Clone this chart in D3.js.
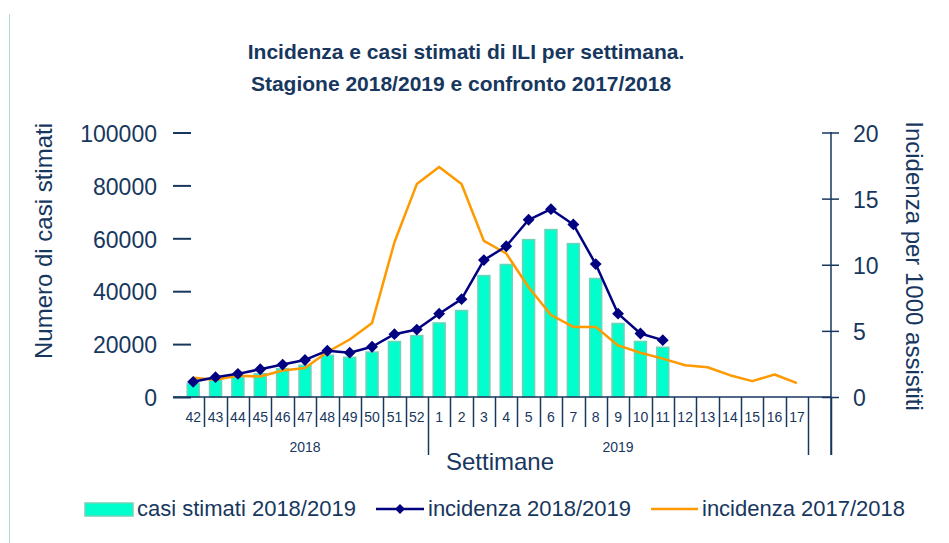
<!DOCTYPE html>
<html>
<head>
  <meta charset="utf-8" />
  <script src="https://d3js.org/d3.v7.min.js"></script>
  <style>
    body { margin: 0; background: #fff; }
    text { font-family: "Liberation Sans", Arial, sans-serif; fill: #17375e; }
  </style>
</head>
<body>
  <svg width="949" height="543"></svg>
  <script>
    // settimane (l'ultima categoria e' vuota)
    var weeks = ["42", "43", "44", "45", "46", "47", "48", "49", "50", "51", "52",
      "1", "2", "3", "4", "5", "6", "7", "8", "9", "10", "11", "12", "13", "14", "15", "16", "17", ""];
    var years = [
      { label: "2018", from: 0, to: 11 },
      { label: "2019", from: 11, to: 28 },
      { label: "", from: 28, to: 29 }
    ];

    // casi stimati 2018/2019 (sett. 42 -> 11)
    var casi1819 = [5200, 6500, 7800, 8800, 10700, 12000, 15800, 15000, 17000, 21000, 23200,
      28000, 32700, 45900, 50100, 59500, 63300, 58000, 44800, 27800, 21000, 18800];
    // incidenza 2018/2019 (sett. 42 -> 11)
    var inc1819 = [1.15, 1.5, 1.75, 2.1, 2.45, 2.8, 3.5, 3.35, 3.8, 4.75, 5.1,
      6.3, 7.4, 10.35, 11.4, 13.4, 14.2, 13.05, 10.05, 6.3, 4.8, 4.3];
    // incidenza 2017/2018 (sett. 42 -> 17)
    var inc1718 = [1.45, 1.3, 1.6, 1.55, 2.0, 2.2, 3.4, 4.35, 5.6, 11.7, 16.1,
      17.4, 16.1, 11.8, 10.85, 8.3, 6.2, 5.3, 5.3, 3.9, 3.35, 2.9, 2.4, 2.25, 1.65, 1.2, 1.7, 1.05];

    var leftTicks = [0, 20000, 40000, 60000, 80000, 100000];
    var rightTicks = [0, 5, 10, 15, 20];

    var navy = "#17375e";
    var svg = d3.select("svg");

    var x = d3.scaleBand()
      .domain(d3.range(weeks.length))
      .range([182, 830.5])
      .padding(0);
    var yLeft = d3.scaleLinear().domain([0, 100000]).range([397, 132.5]);
    var yRight = d3.scaleLinear().domain([0, 20]).range([397, 132.5]);

    // bordo sinistro
    svg.append("line")
      .attr("x1", 9.5).attr("x2", 9.5)
      .attr("y1", 14).attr("y2", 543)
      .attr("stroke", "#a8dcd4")
      .attr("stroke-width", 1);

    // titolo
    svg.append("text")
      .attr("x", 466).attr("y", 59)
      .attr("text-anchor", "middle")
      .style("font-size", "21px")
      .style("font-weight", "bold")
      .text("Incidenza e casi stimati di ILI per settimana.");
    svg.append("text")
      .attr("x", 461).attr("y", 91)
      .attr("text-anchor", "middle")
      .style("font-size", "21px")
      .style("font-weight", "bold")
      .text("Stagione 2018/2019 e confronto 2017/2018");

    // barre
    svg.append("g")
      .selectAll("rect")
      .data(casi1819)
      .enter()
      .append("rect")
      .attr("x", function (d, i) { return x(i) + x.bandwidth() / 2 - 6; })
      .attr("y", function (d) { return yLeft(d); })
      .attr("width", 12)
      .attr("height", function (d) { return yLeft(0) - yLeft(d); })
      .attr("fill", "#00ffcc")
      .attr("stroke", "#72d2b9")
      .attr("stroke-width", 1.5);

    // asse x: linea di base e separatori
    svg.append("line")
      .attr("x1", 173).attr("x2", 831)
      .attr("y1", 397).attr("y2", 397)
      .attr("stroke", navy)
      .attr("stroke-width", 1.5);

    var xAxis = d3.axisBottom(x)
      .tickSize(0)
      .tickPadding(15)
      .tickFormat(function (i) { return weeks[i]; });
    var gx = svg.append("g")
      .attr("transform", "translate(0,397)")
      .call(xAxis);
    gx.select(".domain").remove();
    gx.selectAll("text")
      .style("font-size", "14px")
      .style("font-family", "\"Liberation Sans\", Arial, sans-serif")
      .attr("fill", navy);

    var groupEdges = years.map(function (g) { return g.to; });
    svg.append("g")
      .selectAll("line")
      .data(d3.range(1, weeks.length + 1))
      .enter()
      .append("line")
      .attr("x1", function (i) { return Math.round(i < weeks.length ? x(i) : x.range()[1]) + 0.5; })
      .attr("x2", function (i) { return Math.round(i < weeks.length ? x(i) : x.range()[1]) + 0.5; })
      .attr("y1", 397)
      .attr("y2", function (i) { return groupEdges.indexOf(i) >= 0 ? 455 : 427; })
      .attr("stroke", navy)
      .attr("stroke-width", 1.5);

    svg.append("g")
      .selectAll("text")
      .data(years)
      .enter()
      .append("text")
      .attr("x", function (g) { return (x(g.from) + (g.to < weeks.length ? x(g.to) : x.range()[1])) / 2; })
      .attr("y", 452)
      .attr("text-anchor", "middle")
      .style("font-size", "14px")
      .text(function (g) { return g.label; });

    svg.append("text")
      .attr("x", 500).attr("y", 470)
      .attr("text-anchor", "middle")
      .style("font-size", "24px")
      .text("Settimane");

    // asse sinistro
    var gl = svg.append("g")
      .attr("transform", "translate(191,0)")
      .call(d3.axisLeft(yLeft).tickValues(leftTicks).tickSize(18).tickPadding(16).tickFormat(d3.format("d")));
    gl.select(".domain").remove();
    gl.selectAll("line").attr("stroke", navy).attr("stroke-width", 2);
    gl.selectAll("text")
      .style("font-size", "23px")
      .style("font-family", "\"Liberation Sans\", Arial, sans-serif")
      .attr("fill", navy)
      .attr("dy", "0.38em");

    svg.append("text")
      .attr("transform", "translate(52,241) rotate(-90)")
      .attr("text-anchor", "middle")
      .style("font-size", "24px")
      .text("Numero di casi stimati");

    // asse destro
    svg.append("line")
      .attr("x1", 831).attr("x2", 831)
      .attr("y1", 132).attr("y2", 455)
      .attr("stroke", navy)
      .attr("stroke-width", 1.5);
    var gr = svg.append("g")
      .attr("transform", "translate(822,0)")
      .call(d3.axisRight(yRight).tickValues(rightTicks).tickSize(17).tickPadding(14));
    gr.select(".domain").remove();
    gr.selectAll("line").attr("stroke", navy).attr("stroke-width", 1.5);
    gr.selectAll("text")
      .style("font-size", "23px")
      .style("font-family", "\"Liberation Sans\", Arial, sans-serif")
      .attr("fill", navy)
      .attr("dy", "0.38em");

    svg.append("text")
      .attr("transform", "translate(906,266) rotate(90)")
      .attr("text-anchor", "middle")
      .style("font-size", "24px")
      .text("Incidenza per 1000 assistiti");

    // linee
    var line = d3.line()
      .x(function (d, i) { return x(i) + x.bandwidth() / 2; })
      .y(function (d) { return yRight(d); });

    svg.append("path")
      .datum(inc1718)
      .attr("d", line)
      .attr("fill", "none")
      .attr("stroke", "#ff9900")
      .attr("stroke-width", 2.5)
      .attr("stroke-linejoin", "round");

    svg.append("path")
      .datum(inc1819)
      .attr("d", line)
      .attr("fill", "none")
      .attr("stroke", "#000080")
      .attr("stroke-width", 2.5)
      .attr("stroke-linejoin", "round");

    var diamond = d3.symbol().type(d3.symbolSquare).size(70);
    svg.append("g")
      .selectAll("path")
      .data(inc1819)
      .enter()
      .append("path")
      .attr("d", diamond)
      .attr("transform", function (d, i) {
        return "translate(" + (x(i) + x.bandwidth() / 2) + "," + yRight(d) + ") rotate(45)";
      })
      .attr("fill", "#000080");

    // legenda
    var legend = svg.append("g");
    legend.append("rect")
      .attr("x", 85).attr("y", 503)
      .attr("width", 48).attr("height", 13)
      .attr("fill", "#00ffcc")
      .attr("stroke", "#72d2b9")
      .attr("stroke-width", 1.5);
    legend.append("text")
      .attr("x", 137).attr("y", 516)
      .style("font-size", "22px")
      .text("casi stimati 2018/2019");

    legend.append("line")
      .attr("x1", 376).attr("x2", 424)
      .attr("y1", 509).attr("y2", 509)
      .attr("stroke", "#000080")
      .attr("stroke-width", 2.5);
    legend.append("path")
      .attr("d", d3.symbol().type(d3.symbolSquare).size(50))
      .attr("transform", "translate(400,509) rotate(45)")
      .attr("fill", "#000080");
    legend.append("text")
      .attr("x", 428).attr("y", 516)
      .style("font-size", "22px")
      .text("incidenza 2018/2019");

    legend.append("line")
      .attr("x1", 651).attr("x2", 698)
      .attr("y1", 509).attr("y2", 509)
      .attr("stroke", "#ff9900")
      .attr("stroke-width", 2.5);
    legend.append("text")
      .attr("x", 702).attr("y", 516)
      .style("font-size", "22px")
      .text("incidenza 2017/2018");
  </script>
</body>
</html>
